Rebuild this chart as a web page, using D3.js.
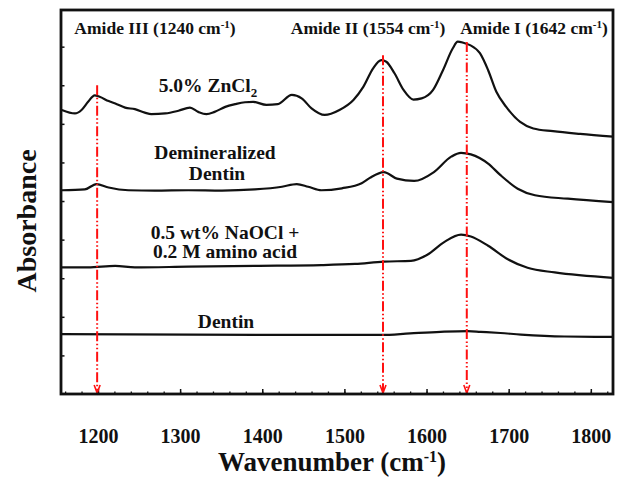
<!DOCTYPE html>
<html>
<head>
<meta charset="utf-8">
<script src="https://cdn.jsdelivr.net/npm/d3@7/dist/d3.min.js"></script>
<style>
body { margin: 0; background: #fff; }
text { font-family: "Liberation Serif", "Times New Roman", serif; font-weight: bold; fill: #111; }
</style>
</head>
<body>
<div id="chart-area"></div>
<script>
// spectra: wavenumber (cm-1) and stacked absorbance (a.u.)
var zncl2Wn  = [1156, 1172, 1180, 1188, 1196, 1202, 1213, 1223, 1233, 1245, 1257, 1265, 1282, 1298, 1312, 1322, 1332, 1342, 1355, 1367, 1379, 1389, 1405, 1419, 1436, 1448, 1460, 1476, 1494, 1511, 1523, 1535, 1545, 1551, 1561, 1572, 1584, 1594, 1608, 1620, 1632, 1638, 1645, 1653, 1665, 1675, 1685, 1697, 1714, 1730, 1754, 1787, 1827];
var zncl2Abs = [0.736, 0.727, 0.736, 0.757, 0.774, 0.770, 0.759, 0.751, 0.742, 0.738, 0.729, 0.725, 0.727, 0.734, 0.742, 0.731, 0.725, 0.731, 0.744, 0.751, 0.756, 0.757, 0.749, 0.751, 0.775, 0.766, 0.740, 0.723, 0.736, 0.762, 0.796, 0.844, 0.865, 0.861, 0.831, 0.788, 0.763, 0.766, 0.788, 0.839, 0.896, 0.913, 0.910, 0.904, 0.883, 0.839, 0.783, 0.744, 0.705, 0.688, 0.681, 0.674, 0.667];

var demWn  = [1156, 1184, 1198, 1213, 1237, 1269, 1310, 1351, 1391, 1424, 1442, 1456, 1472, 1497, 1521, 1531, 1548, 1564, 1585, 1609, 1630, 1642, 1654, 1675, 1690, 1711, 1732, 1772, 1827];
var demAbs = [0.528, 0.530, 0.544, 0.535, 0.528, 0.527, 0.528, 0.527, 0.530, 0.537, 0.544, 0.537, 0.528, 0.533, 0.546, 0.560, 0.575, 0.558, 0.552, 0.575, 0.615, 0.625, 0.621, 0.597, 0.567, 0.532, 0.515, 0.506, 0.497];

var naoclWn  = [1156, 1188, 1221, 1245, 1310, 1391, 1472, 1513, 1548, 1581, 1601, 1621, 1642, 1654, 1675, 1699, 1723, 1756, 1827];
var naoclAbs = [0.328, 0.328, 0.332, 0.328, 0.330, 0.332, 0.334, 0.337, 0.343, 0.345, 0.361, 0.393, 0.413, 0.408, 0.384, 0.349, 0.327, 0.315, 0.301];

var dentinWn  = [1156, 1500, 1545, 1580, 1617, 1650, 1666, 1690, 1715, 1768, 1827];
var dentinAbs = [0.155, 0.153, 0.153, 0.157, 0.161, 0.163, 0.161, 0.158, 0.154, 0.149, 0.148];

// amide band markers (drawn position, top of the dashed line)
var amideWn   = [1199, 1547, 1649];
var amideTop  = [0.800, 0.878, 0.912];
var amideName = ["Amide III (1240 cm", "Amide II (1554 cm", "Amide I (1642 cm"];

var xTicks = [1200, 1300, 1400, 1500, 1600, 1700, 1800];
var yTicks = [0.1, 0.2, 0.3, 0.4, 0.5, 0.6, 0.7, 0.8, 0.9];

var margin = {top: 10, right: 9, bottom: 85, left: 61};
var width = 552;
var height = 384;

var svg = d3.select("#chart-area")
    .append("svg")
    .attr("width", 622)
    .attr("height", 479);

var g = svg.append("g")
    .attr("transform", "translate(" + margin.left + ", " + margin.top + ")");

var x = d3.scaleLinear().domain([1155, 1827]).range([0, width]);
var y = d3.scaleLinear().domain([0, 0.995]).range([height, 0]);

// minor ticks along the bottom
var minor = d3.range(1160, 1827, 20);
g.append("g")
    .attr("transform", "translate(0, " + height + ")")
    .call(d3.axisBottom(x).tickValues(minor).tickSize(-2.5).tickFormat(""))
    .call(function(a){ a.select(".domain").remove(); a.selectAll("line").attr("stroke", "#111").attr("stroke-width", 1.3); });

var xAxis = g.append("g")
    .attr("transform", "translate(0, " + height + ")")
    .call(d3.axisBottom(x).tickValues(xTicks).tickSize(-5).tickPadding(35).tickFormat(d3.format("d")));
xAxis.select(".domain").remove();
xAxis.selectAll("line").attr("stroke", "#111").attr("stroke-width", 1.5);
xAxis.selectAll("text").style("font-size", "20px").style("font-family", "Liberation Serif, serif").style("font-weight", "bold").attr("fill", "#111");

var yAxis = g.append("g")
    .call(d3.axisLeft(y).tickValues(yTicks).tickSize(-3.5).tickFormat(""));
yAxis.select(".domain").remove();
yAxis.selectAll("line").attr("stroke", "#111").attr("stroke-width", 1.5);

// spectra
var line = d3.line()
    .x(function(d){ return x(d[0]); })
    .y(function(d){ return y(d[1]); })
    .curve(d3.curveMonotoneX);

var series = [
    d3.zip(zncl2Wn, zncl2Abs),
    d3.zip(demWn, demAbs),
    d3.zip(naoclWn, naoclAbs),
    d3.zip(dentinWn, dentinAbs)
];

g.selectAll("path.spec")
    .data(series)
    .enter().append("path")
    .attr("class", "spec")
    .attr("d", line)
    .attr("fill", "none")
    .attr("stroke", "#111")
    .attr("stroke-width", 2.2)
    .attr("stroke-linejoin", "round");

// red dashed band markers with small arrow heads
g.selectAll("line.band")
    .data(amideWn)
    .enter().append("line")
    .attr("class", "band")
    .attr("x1", function(d){ return x(d); })
    .attr("x2", function(d){ return x(d); })
    .attr("y1", function(d, i){ return y(amideTop[i]); })
    .attr("y2", height - 1)
    .attr("stroke", "#ff1010")
    .attr("stroke-width", 2)
    .attr("stroke-dasharray", "10,2.5,1.5,2.5,1.5,2.5");

g.selectAll("path.arrow")
    .data(amideWn)
    .enter().append("path")
    .attr("class", "arrow")
    .attr("d", function(d){ var cx = x(d); return "M" + (cx - 3) + "," + (height - 9) + "L" + cx + "," + (height - 1) + "L" + (cx + 3) + "," + (height - 9); })
    .attr("fill", "none")
    .attr("stroke", "#ff1010")
    .attr("stroke-width", 1.6);

// band labels across the top
var labelX = [155, 368, 534];
amideName.forEach(function(name, i){
    var t = svg.append("text")
        .attr("x", labelX[i])
        .attr("y", 34)
        .attr("text-anchor", "middle")
        .style("font-size", "17.5px");
    t.append("tspan").text(name);
    t.append("tspan").attr("dy", -6).style("font-size", "11px").text("-1");
    t.append("tspan").attr("dy", 6).text(")");
});

// curve labels
var zn = svg.append("text").attr("x", 208).attr("y", 92).attr("text-anchor", "middle").style("font-size", "19.5px");
zn.append("tspan").text("5.0% ZnCl");
zn.append("tspan").attr("dy", 5).style("font-size", "13px").text("2");

svg.append("text").attr("x", 215).attr("y", 159).attr("text-anchor", "middle").style("font-size", "19.5px").text("Demineralized");
svg.append("text").attr("x", 217).attr("y", 180).attr("text-anchor", "middle").style("font-size", "19.5px").text("Dentin");
svg.append("text").attr("x", 225).attr("y", 239).attr("text-anchor", "middle").style("font-size", "19.5px").text("0.5 wt% NaOCl +");
svg.append("text").attr("x", 225).attr("y", 258).attr("text-anchor", "middle").style("font-size", "19.5px").text("0.2 M amino acid");
svg.append("text").attr("x", 226).attr("y", 328).attr("text-anchor", "middle").style("font-size", "19.5px").text("Dentin");

// axis titles
var xt = svg.append("text").attr("x", 332).attr("y", 471).attr("text-anchor", "middle").style("font-size", "27px");
xt.append("tspan").text("Wavenumber (cm");
xt.append("tspan").attr("dy", -9).style("font-size", "16px").text("-1");
xt.append("tspan").attr("dy", 9).text(")");

svg.append("text")
    .attr("transform", "translate(36, 221) rotate(-90)")
    .attr("text-anchor", "middle")
    .style("font-size", "28px")
    .text("Absorbance");

// plot frame
g.append("rect")
    .attr("width", width)
    .attr("height", height)
    .attr("fill", "none")
    .attr("stroke", "#111")
    .attr("stroke-width", 2.8);
</script>
</body>
</html>
